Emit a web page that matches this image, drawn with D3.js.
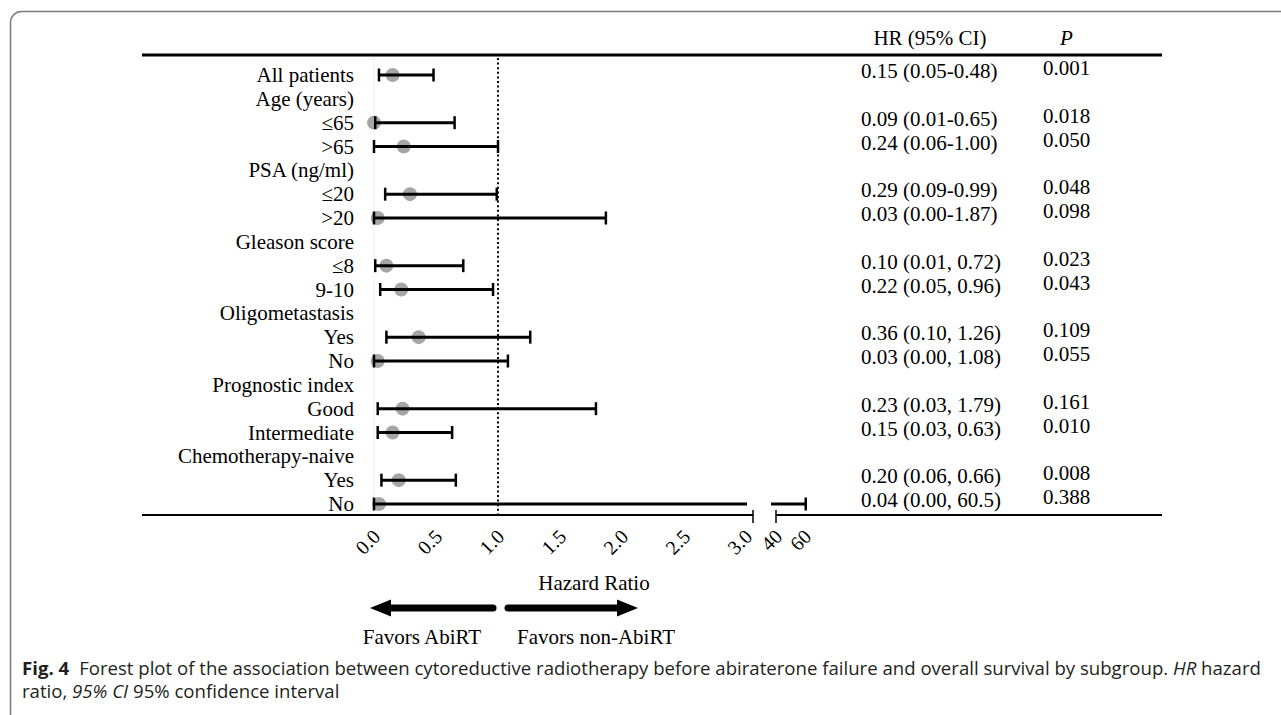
<!DOCTYPE html>
<html>
<head>
<meta charset="utf-8">
<script src="https://cdnjs.cloudflare.com/ajax/libs/d3/7.8.5/d3.min.js"></script>
<style>
    body { margin: 0; background: #fff; }
    svg text { font-family: "Liberation Serif", "Times New Roman", serif; fill: #000; }
    svg .caption { font-family: "Open Sans", "Noto Sans", sans-serif; fill: #231f20; }
</style>
</head>
<body>
<div id="chart"></div>
<script>
// Subgroup rows (header rows have no estimate)
var rowLabels = ["All patients", "Age (years)", "≤65", ">65", "PSA (ng/ml)", "≤20", ">20",
    "Gleason score", "≤8", "9-10", "Oligometastasis", "Yes", "No", "Prognostic index",
    "Good", "Intermediate", "Chemotherapy-naive", "Yes", "No"];
// Plotted point estimates and CI ends, as drawn in the figure
var hrPoint = [0.15, null, 0.00, 0.24, null, 0.29, 0.03, null, 0.10, 0.22, null, 0.36, 0.03, null, 0.23, 0.15, null, 0.20, 0.04];
var ciLow   = [0.04, null, 0.01, 0.00, null, 0.09, 0.00, null, 0.01, 0.05, null, 0.10, 0.00, null, 0.03, 0.03, null, 0.06, 0.00];
var ciHigh  = [0.48, null, 0.65, 1.00, null, 0.99, 1.87, null, 0.72, 0.96, null, 1.26, 1.08, null, 1.79, 0.63, null, 0.66, 60.5];
// Table columns
var hrText = ["0.15 (0.05-0.48)", "", "0.09 (0.01-0.65)", "0.24 (0.06-1.00)", "", "0.29 (0.09-0.99)", "0.03 (0.00-1.87)",
    "", "0.10 (0.01, 0.72)", "0.22 (0.05, 0.96)", "", "0.36 (0.10, 1.26)", "0.03 (0.00, 1.08)", "",
    "0.23 (0.03, 1.79)", "0.15 (0.03, 0.63)", "", "0.20 (0.06, 0.66)", "0.04 (0.00, 60.5)"];
var pText = ["0.001", "", "0.018", "0.050", "", "0.048", "0.098", "", "0.023", "0.043", "", "0.109", "0.055", "",
    "0.161", "0.010", "", "0.008", "0.388"];
// Axis ticks (broken axis)
var lowTicks = [0, 0.5, 1, 1.5, 2, 2.5, 3];
var highTicks = [40, 60];

const W = 1281, H = 715,
    lineLeft = 142, lineRight = 1162,
    topLine = 55, axisY = 515;

// Scales
var xLow = d3.scaleLinear().domain([0, 3]).range([374, 746]);
var xHigh = d3.scaleLinear().domain([40, 60]).range([776, 805]);
var y = d3.scalePoint().domain(d3.range(rowLabels.length)).range([75, 504]);

var svg = d3.select("#chart")
    .append("svg")
        .attr("width", W)
        .attr("height", H);

// Frame round the figure
svg.append("rect")
    .attr("x", 10.5).attr("y", 11.5)
    .attr("width", W + 20).attr("height", H + 20)
    .attr("rx", 11)
    .attr("fill", "none")
    .attr("stroke", "#7a7a7a")
    .attr("stroke-width", 1.5);

// Column headers
svg.append("text")
    .attr("x", 930).attr("y", 45)
    .attr("text-anchor", "middle")
    .style("font-size", "21px")
    .text("HR (95% CI)");
svg.append("text")
    .attr("x", 1060).attr("y", 45)
    .style("font-size", "21px")
    .style("font-style", "italic")
    .text("P");

// Top rule
svg.append("line")
    .attr("x1", lineLeft).attr("x2", lineRight)
    .attr("y1", topLine).attr("y2", topLine)
    .attr("stroke", "#000").attr("stroke-width", 3);

// Faint zero line and dotted line at HR = 1
svg.append("line")
    .attr("x1", xLow(0)).attr("x2", xLow(0))
    .attr("y1", topLine + 3).attr("y2", axisY)
    .attr("stroke", "#f0f0f0").attr("stroke-width", 1);
svg.append("line")
    .attr("x1", xLow(1)).attr("x2", xLow(1))
    .attr("y1", topLine + 3).attr("y2", axisY)
    .attr("stroke", "#000").attr("stroke-width", 2)
    .attr("stroke-dasharray", "2,2.6");

var rows = rowLabels.map(function(d, i) {
    return {label: d, est: hrPoint[i], lo: ciLow[i], hi: ciHigh[i], hr: hrText[i], p: pText[i], i: i};
});

// Row labels
svg.selectAll(".rowLabel")
    .data(rows)
    .enter().append("text")
        .attr("class", "rowLabel")
        .attr("x", 354)
        .attr("y", function(d) { return y(d.i) + 7; })
        .attr("text-anchor", "end")
        .style("font-size", "21px")
        .text(function(d) { return d.label; });

// HR and P columns
svg.selectAll(".hrText")
    .data(rows)
    .enter().append("text")
        .attr("class", "hrText")
        .attr("x", 861)
        .attr("y", function(d) { return y(d.i) + 3; })
        .style("font-size", "21px")
        .text(function(d) { return d.hr; });
svg.selectAll(".pText")
    .data(rows)
    .enter().append("text")
        .attr("class", "pText")
        .attr("x", 1043)
        .attr("y", function(d) { return y(d.i); })
        .style("font-size", "21px")
        .text(function(d) { return d.p; });

var est = rows.filter(function(d) { return d.est !== null; });
function xPos(v) { return v > 3 ? xHigh(v) : xLow(v); }

// Points
svg.selectAll(".dot")
    .data(est)
    .enter().append("circle")
        .attr("class", "dot")
        .attr("cx", function(d) { return xLow(d.est); })
        .attr("cy", function(d) { return y(d.i); })
        .attr("r", 7)
        .attr("fill", "#a6a6a6");

// CI bars (broken where the upper bound runs past 3)
var ci = svg.selectAll(".ci")
    .data(est)
    .enter().append("g")
        .attr("class", "ci")
        .attr("stroke", "#000");
ci.append("line")
    .attr("x1", function(d) { return xLow(d.lo); })
    .attr("x2", function(d) { return d.hi > 3 ? xLow(3) + 1 : xLow(d.hi); })
    .attr("y1", function(d) { return y(d.i); })
    .attr("y2", function(d) { return y(d.i); })
    .attr("stroke-width", 3);
ci.filter(function(d) { return d.hi > 3; })
    .append("line")
    .attr("x1", function(d) { return xHigh(40) - 5; })
    .attr("x2", function(d) { return xHigh(d.hi); })
    .attr("y1", function(d) { return y(d.i); })
    .attr("y2", function(d) { return y(d.i); })
    .attr("stroke-width", 3);
ci.selectAll(".cap")
    .data(function(d) { return [{x: xLow(d.lo), y: y(d.i)}, {x: xPos(d.hi), y: y(d.i)}]; })
    .enter().append("line")
        .attr("class", "cap")
        .attr("x1", function(d) { return d.x; })
        .attr("x2", function(d) { return d.x; })
        .attr("y1", function(d) { return d.y - 6.5; })
        .attr("y2", function(d) { return d.y + 6.5; })
        .attr("stroke-width", 2.5);

// Broken x axis
var breakL = xLow(3) + 7, breakR = xHigh(40);
var axisG = svg.append("g")
    .attr("transform", "translate(0," + axisY + ")");
axisG.append("line")
    .attr("x1", lineLeft).attr("x2", breakL)
    .attr("stroke", "#000").attr("stroke-width", 1.8);
axisG.append("line")
    .attr("x1", breakR).attr("x2", lineRight)
    .attr("stroke", "#000").attr("stroke-width", 1.8);
axisG.selectAll(".breakTick")
    .data([breakL, breakR])
    .enter().append("line")
        .attr("class", "breakTick")
        .attr("x1", function(d) { return d; }).attr("x2", function(d) { return d; })
        .attr("y1", -5).attr("y2", 8)
        .attr("stroke", "#000").attr("stroke-width", 1.5);

var xAxisLow = d3.axisBottom(xLow)
    .tickValues(lowTicks)
    .tickSize(0)
    .tickFormat(d3.format(".1f"));
var xAxisHigh = d3.axisBottom(xHigh)
    .tickValues(highTicks)
    .tickSize(0)
    .tickFormat(d3.format("d"));
[xAxisLow, xAxisHigh].forEach(function(ax) {
    var g = axisG.append("g").call(ax);
    g.select(".domain").remove();
    g.selectAll("text")
        .attr("x", 0).attr("y", 0).attr("dy", "0.35em")
        .attr("text-anchor", "end")
        .attr("transform", "translate(2,18) rotate(-45)")
        .style("font-family", "'Liberation Serif', 'Times New Roman', serif")
        .style("font-size", "20px")
        .attr("fill", "#000");
});

// Axis title
svg.append("text")
    .attr("x", 594).attr("y", 590)
    .attr("text-anchor", "middle")
    .style("font-size", "21px")
    .text("Hazard Ratio");

// Direction arrows
var arrowY = 608;
function arrow(tail, tip) {
    var dir = tip < tail ? -1 : 1;
    svg.append("line")
        .attr("x1", tail).attr("x2", tip - dir * 16)
        .attr("y1", arrowY).attr("y2", arrowY)
        .attr("stroke", "#000").attr("stroke-width", 7)
        .attr("stroke-linecap", "round");
    svg.append("path")
        .attr("d", "M" + tip + "," + arrowY +
            "L" + (tip - dir * 21) + "," + (arrowY - 8.5) +
            "L" + (tip - dir * 21) + "," + (arrowY + 8.5) + "Z")
        .attr("fill", "#000");
}
arrow(xLow(1) - 5, 370);
arrow(xLow(1) + 10, 638);

svg.append("text")
    .attr("x", 422).attr("y", 644)
    .attr("text-anchor", "middle")
    .style("font-size", "21px")
    .text("Favors AbiRT");
svg.append("text")
    .attr("x", 596).attr("y", 644)
    .attr("text-anchor", "middle")
    .style("font-size", "21px")
    .text("Favors non-AbiRT");

// Caption
var cap1 = svg.append("text")
    .attr("class", "caption")
    .attr("x", 22).attr("y", 675)
    .style("font-size", "18.6px");
cap1.append("tspan").style("font-weight", "bold").text("Fig. 4");
cap1.append("tspan").attr("dx", 10).text("Forest plot of the association between cytoreductive radiotherapy before abiraterone failure and overall survival by subgroup. ");
cap1.append("tspan").style("font-style", "italic").text("HR");
cap1.append("tspan").text(" hazard");
var cap2 = svg.append("text")
    .attr("class", "caption")
    .attr("x", 22).attr("y", 698)
    .style("font-size", "18.6px");
cap2.append("tspan").text("ratio, ");
cap2.append("tspan").style("font-style", "italic").text("95% CI");
cap2.append("tspan").text(" 95% confidence interval");
</script>
</body>
</html>
